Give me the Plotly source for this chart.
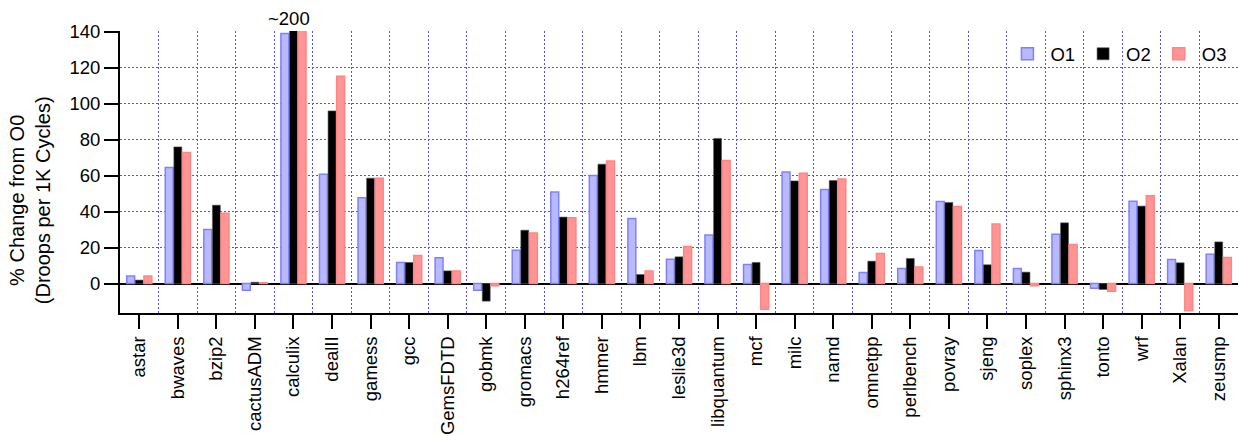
import plotly.graph_objects as go

benchmarks = ["astar", "bwaves", "bzip2", "cactusADM", "calculix", "dealII", "gamess",
              "gcc", "GemsFDTD", "gobmk", "gromacs", "h264ref", "hmmer", "lbm",
              "leslie3d", "libquantum", "mcf", "milc", "namd", "omnetpp", "perlbench",
              "povray", "sjeng", "soplex", "sphinx3", "tonto", "wrf", "Xalan", "zeusmp"]

o1 = [4.1, 64.4, 30.0, -3.7, 138.9, 60.7, 47.6, 11.7, 14.3, -3.7, 18.5, 50.9, 60.0, 36.1,
      13.5, 26.9, 10.6, 62.0, 52.2, 6.1, 8.3, 45.6, 18.3, 8.3, 27.4, -2.6, 45.7, 13.3, 16.3]
o2 = [1.9, 75.9, 43.5, 0.7, 200.0, 95.9, 58.5, 11.7, 7.0, -9.8, 29.6, 36.9, 66.3, 5.0,
      14.8, 80.6, 11.7, 57.0, 57.2, 12.4, 13.9, 45.0, 10.4, 6.3, 33.7, -3.3, 43.0, 11.5, 23.1]
o3 = [4.1, 72.8, 39.0, 0.4, 200.0, 115.2, 58.5, 15.6, 7.0, -1.3, 28.1, 36.5, 68.0, 6.9,
      20.6, 68.3, -14.3, 61.3, 58.0, 16.7, 9.1, 42.8, 33.0, -1.3, 21.7, -4.3, 48.7, -15.2, 14.4]

y_ticks = [0, 20, 40, 60, 80, 100, 120, 140]
clipped_label = "~200"
y_title = "% Change from O0<br>(Droops per 1K Cycles)"

FONT = "Liberation Sans, Arial, Helvetica, sans-serif"
FS = 18.5
GRID = "#5050ff"

fig = go.Figure()
fig.add_trace(go.Bar(name="O1", x=benchmarks, y=o1,
                     marker=dict(color="#b9b9ff", line=dict(color="#8080ff", width=1.5))))
fig.add_trace(go.Bar(name="O2", x=benchmarks, y=o2,
                     marker=dict(color="#000000", line=dict(color="#555555", width=0.6))))
fig.add_trace(go.Bar(name="O3", x=benchmarks, y=o3,
                     marker=dict(color="#ff9595", line=dict(color="#ff8585", width=1.5))))

n = len(benchmarks)
# empty helper trace so the overlaid boundary-grid axis gets drawn
fig.add_trace(go.Scatter(x=[], y=[], xaxis="x2", yaxis="y", showlegend=False,
                         hoverinfo="skip"))

# 1.8 px per unit over a 282 px tall plot, grid lines centred on pixel rows
y_top = 140 + 0.5 / 1.8
y_bottom = y_top - 282 / 1.8

fig.update_layout(
    width=1239, height=437,
    margin=dict(l=120, r=1, t=31, b=124, autoexpand=False),
    paper_bgcolor="white", plot_bgcolor="white",
    font=dict(family=FONT, size=FS, color="black"),
    barmode="group", bargap=0.33, bargroupgap=0.08,
    showlegend=True,
    legend=dict(orientation="h", x=0.995, xanchor="right", y=0.985, yanchor="top",
                bgcolor="rgba(0,0,0,0)", font=dict(size=FS), itemwidth=36,
                traceorder="normal"),
    xaxis=dict(type="category", categoryorder="array", categoryarray=benchmarks,
               range=[-0.5, n - 0.5], showgrid=False, tickangle=-90,
               ticks="outside", ticklen=14, tickwidth=2, tickcolor="black",
               showline=True, linewidth=2, linecolor="black",
               tickfont=dict(size=FS)),
    # boundary grid lines between benchmark groups
    xaxis2=dict(overlaying="x", anchor="y", type="linear", range=[-0.5, n - 0.5],
                tickvals=[i + 0.5 for i in range(n)], showticklabels=False, ticks="",
                showgrid=True, gridcolor=GRID, griddash="2px,2px", gridwidth=1,
                showline=False, zeroline=False),
    yaxis=dict(range=[y_bottom, y_top], tickvals=y_ticks, showgrid=True,
               gridcolor=GRID, griddash="2px,2px", gridwidth=1,
               zeroline=True, zerolinecolor="black", zerolinewidth=2,
               ticks="outside", ticklen=14, tickwidth=2, tickcolor="black",
               showline=True, linewidth=2, linecolor="black",
               tickfont=dict(size=FS)),
)

# axis title, placed a little below the vertical centre of the plot
fig.add_annotation(xref="paper", yref="paper", x=-0.0805, y=0.40, text=y_title,
                   textangle=-90, showarrow=False, xanchor="center", yanchor="middle",
                   font=dict(size=20))

fig.add_annotation(x="calculix", y=140, yref="y", text=clipped_label, showarrow=False,
                   yanchor="bottom", yshift=1, xshift=-4, font=dict(size=FS))

fig.write_html("out.html")
